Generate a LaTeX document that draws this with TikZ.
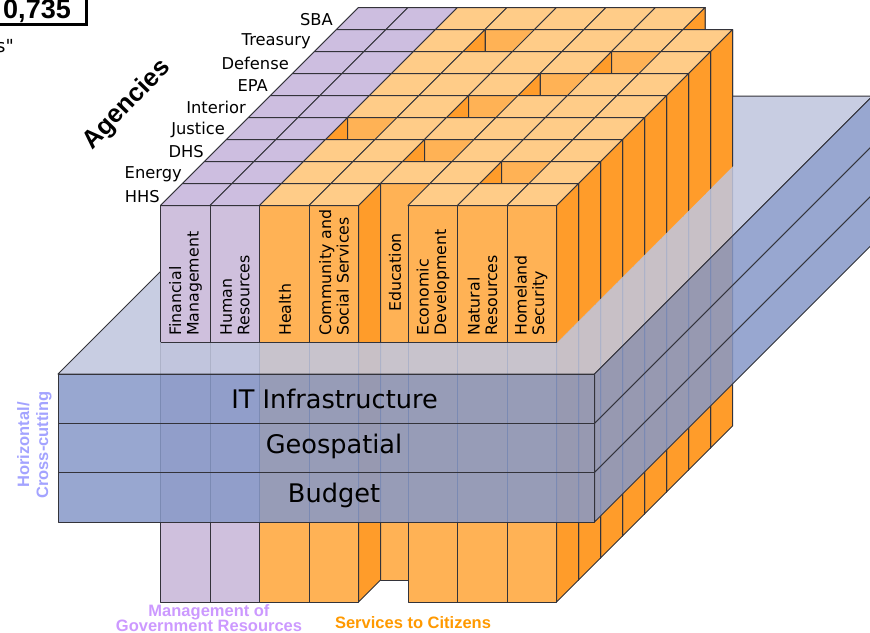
\documentclass[tikz,border=0pt]{standalone}
\usepackage{fontspec}
\setmainfont{DejaVu Sans}
\newfontfamily\headfont{Liberation Sans}
\newfontfamily\quotefont{DejaVu Sans}
\usepackage{tikz}

\definecolor{mgmtfront}{HTML}{CFC0DD}
\definecolor{mgmttop}{HTML}{CDBEE0}
\definecolor{svcfront}{HTML}{FFB255}
\definecolor{svctop}{HTML}{FFCC88}
\definecolor{svcside}{HTML}{FF9C2A}
\definecolor{slabtop}{HTML}{C0C6DE}
\definecolor{slabfront}{HTML}{8799C8}
\definecolor{edgegray}{HTML}{33333A}
\definecolor{crosstext}{HTML}{A3A3FF}
\definecolor{mgmttext}{HTML}{CC99FF}
\definecolor{svctext}{HTML}{FF9900}

\tikzset{
	cell/.style={draw=edgegray, line width=1pt, line join=round},
	slab/.style={draw=edgegray, line width=1pt, line join=round, fill=slabfront, fill opacity=0.86},
	agency/.style={anchor=base east, inner sep=0pt, font=\fontsize{16.3}{17}\selectfont},
	service/.style={anchor=west, rotate=90, inner sep=0pt, align=left, font=\fontsize{15.8}{17.5}\selectfont},
	layer/.style={anchor=base, inner sep=0pt, font=\fontsize{25.6}{27}\selectfont},
	group/.style={inner sep=0pt, align=center, font=\headfont\bfseries\fontsize{16.5}{15.5}\selectfont},
}

% one block per agency and service, back row first
\newcommand{\drawblocks}{
	\foreach \r in {8,7,...,0}{
		\foreach \c in {0,...,7}{
			\pgfmathtruncatemacro{\gap}{{4,6,4,2,4,5,6,3,7}[\r]}
			\ifnum\c=\gap\else
				\pgfmathsetmacro{\xa}{160.5+22*\r+49.5*\c}
				\pgfmathsetmacro{\ya}{205.5-22*\r}
				\ifnum\c<2 \def\cf{mgmtfront}\def\ct{mgmttop}\else \def\cf{svcfront}\def\ct{svctop}\fi
				\fill[svcside,cell] (\xa+49.5,\ya) -- (\xa+71.5,\ya-22) -- (\xa+71.5,\ya+374.5) -- (\xa+49.5,\ya+396.5) -- cycle;
				\fill[\cf,cell] (\xa,\ya) rectangle (\xa+49.5,\ya+396.5);
				\fill[\ct,cell] (\xa,\ya) -- (\xa+22,\ya-22) -- (\xa+71.5,\ya-22) -- (\xa+49.5,\ya) -- cycle;
			\fi
		}
	}
}

\begin{document}
\begin{tikzpicture}[x=1pt,y=-1pt]
	\clip (0,0) rectangle (870,632);
	\drawblocks

	% the three layers
	\filldraw[slab,fill=slabtop,fill opacity=0.87] (58,374) -- (336,96) -- (872.5,96) -- (594.5,374) -- cycle;
	\filldraw[slab] (594.5,374) -- (872.5,96) -- (872.5,145.5) -- (594.5,423.5) -- cycle;
	\filldraw[slab] (594.5,423.5) -- (872.5,145.5) -- (872.5,194.5) -- (594.5,472.5) -- cycle;
	\filldraw[slab] (594.5,472.5) -- (872.5,194.5) -- (872.5,244) -- (594.5,522) -- cycle;
	\filldraw[slab] (58,374) rectangle (594.5,423.5);
	\filldraw[slab] (58,423.5) rectangle (594.5,472.5);
	\filldraw[slab] (58,472.5) rectangle (594.5,522);

	% blocks above the top layer
	\begin{scope}
		\clip (100,0) -- (800,0) -- (800,99) -- (557,342) -- (100,342) -- cycle;
		\drawblocks
	\end{scope}
	\draw[edgegray, line width=1pt] (160.5,342) -- (557,342);

	\node (itinfra) at (334.5,408) [layer] {IT Infrastructure};
	\node (geo) at (334,453.5) [layer] {Geospatial};
	\node (budget) at (334,502) [layer] {Budget};

	\node (hhs) at (160,202.5) [agency] {HHS};
	\node (energy) at (182,178.5) [agency] {Energy};
	\node (dhs) at (204,157) [agency] {DHS};
	\node (justice) at (225,134) [agency] {Justice};
	\node (interior) at (246,113) [agency] {Interior};
	\node (epa) at (268,91) [agency] {EPA};
	\node (defense) at (289,69) [agency] {Defense};
	\node (treasury) at (311,45) [agency] {Treasury};
	\node (sba) at (333,25) [agency] {SBA};

	\node (fin) at (185.5,336) [service] {Financial\\Management};
	\node (hr) at (235,336) [service] {Human\\Resources};
	\node (health) at (285,336) [service] {Health};
	\node (social) at (334,336) [service] {Community and\\Social Services};
	\node (edu) at (395,312) [service] {Education};
	\node (econ) at (433,336) [service] {Economic\\Development};
	\node (nat) at (482.5,336) [service] {Natural\\Resources};
	\node (home) at (531,336) [service] {Homeland\\Security};

	\node (agencies) at (127,105) [rotate=46, inner sep=0pt, font=\headfont\bfseries\fontsize{25.5}{26}\selectfont] {Agencies};
	\node (cross) at (34.5,445) [group, rotate=90, text=crosstext, font=\headfont\bfseries\fontsize{16.5}{19}\selectfont] {Horizontal/\\Cross-cutting};
	\node (mgmt) at (209,618) [group, text=mgmttext] {Management of\\Government Resources};
	\node (citizens) at (413,623) [group, text=svctext] {Services to Citizens};

	\draw[line width=3pt] (-10,-10) rectangle (86,24);
	\node (total) at (71,18) [anchor=base east, inner sep=0pt, font=\headfont\bfseries\fontsize{27}{27}\selectfont] {0,735};
	\node (quote) at (14,52) [anchor=base east, inner sep=0pt, font=\quotefont\fontsize{18}{18}\selectfont] {s"};
\end{tikzpicture}
\end{document}
